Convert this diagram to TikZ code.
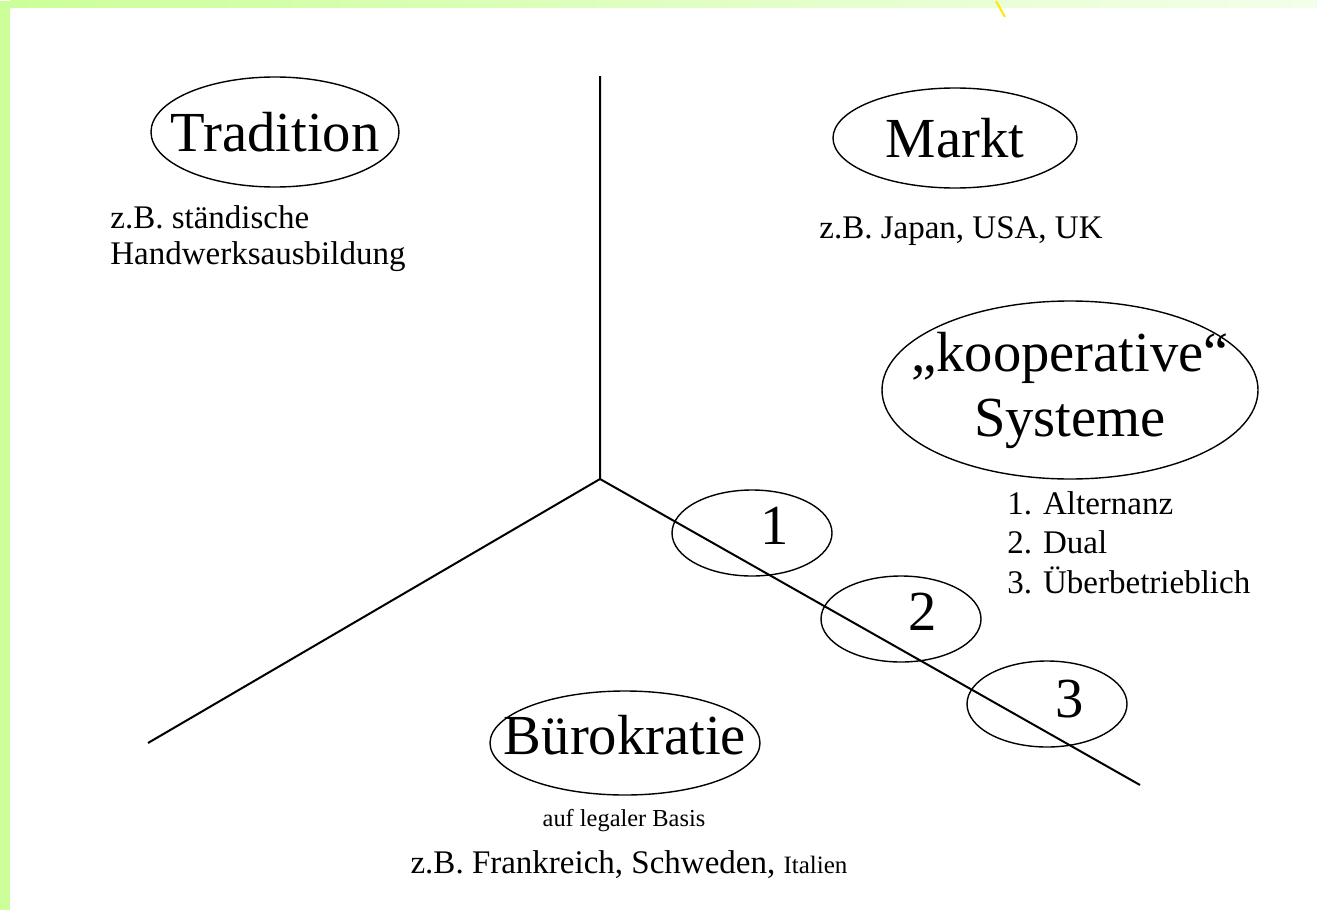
\documentclass[tikz,border=0pt]{standalone}
\usepackage{fontspec}
\setmainfont{Liberation Serif}
\usetikzlibrary{shapes, positioning}
\definecolor{band}{HTML}{CCFF99}
\definecolor{bandlight}{HTML}{F3FFEA}
\tikzstyle{ring}=[draw,ellipse,inner sep=0pt,line width=.7pt]
\tikzstyle{axisline}=[line width=1pt]
\tikzstyle{bigtxt}=[inner sep=0pt,font=\fontsize{28.3}{32.5}\selectfont,align=center]
\tikzstyle{notetxt}=[inner sep=0pt,font=\fontsize{16.5}{18}\selectfont,align=left]
\tikzstyle{smalltxt}=[inner sep=0pt,font=\fontsize{12.2}{14}\selectfont]

\begin{document}
\begin{tikzpicture}[x=.5pt,y=-.5pt]
  % slide frame
  \fill[white] (0,0) rectangle (1317,909);
  \fill[band] (0,0) rectangle (10,909);
  \shade[left color=band,right color=bandlight] (10,0) rectangle (1317,7);
  \draw[yellow!90!orange,line width=1pt] (996,0) -- (1005,16);

  % the three axes
  \coordinate (O) at (600,478);
  \coordinate (axtop) at (600,75);
  \coordinate (axleft) at (148,742);
  \coordinate (axright) at (1140,784);
  \draw[axisline] (axtop) -- (O) -- (axleft);
  \draw[axisline] (O) -- (axright);

  % Tradition
  \node[ring,minimum width=124pt,minimum height=55pt] (trad) at (275,131) {};
  \node[bigtxt] (tradtxt) at (trad) {Tradition};
  \node[notetxt,anchor=north west] (tradnote) at (110,204) {z.B. ständische\\Handwerksausbildung};

  % Markt
  \node[ring,minimum width=122pt,minimum height=50pt] (markt) at (955,137) {};
  \node[bigtxt] (markttxt) at (markt) {Markt};
  \node[notetxt,anchor=base] (marktnote) at (961,237) {z.B. Japan, USA, UK};

  % kooperative Systeme
  \node[ring,minimum width=188pt,minimum height=89pt] (koop) at (1070,389) {};
  \node[bigtxt] (kooptxt) at (koop) {„kooperative“\\Systeme};
  \node[notetxt,anchor=north west,font=\fontsize{16.5}{19.75}\selectfont] (kooplist) at (1007,490)
    {1. Alternanz\\2. Dual\\3. Überbetrieblich};

  % Stufen 1-3 auf der Achse
  \node[ring,minimum width=80pt,minimum height=43pt] (r1) at (752,532) {};
  \node[ring,minimum width=80pt,minimum height=43pt] (r2) at (901,618) {};
  \node[ring,minimum width=80pt,minimum height=43pt] (r3) at (1047,703) {};
  \node[bigtxt] (n1) at (775,525) {1};
  \node[bigtxt] (n2) at (923,611) {2};
  \node[bigtxt] (n3) at (1070,698) {3};

  % Buerokratie
  \node[ring,minimum width=135pt,minimum height=52pt] (buero) at (625,742) {};
  \node[bigtxt] (buerotxt) at (625,734) {Bürokratie};
  \node[smalltxt,anchor=base] (basis) at (624,825) {auf legaler Basis};
  \node[notetxt,anchor=base] (laender) at (629,872)
    {z.B. Frankreich, Schweden, {\fontsize{12.5}{14}\selectfont Italien}};
\end{tikzpicture}
\end{document}
